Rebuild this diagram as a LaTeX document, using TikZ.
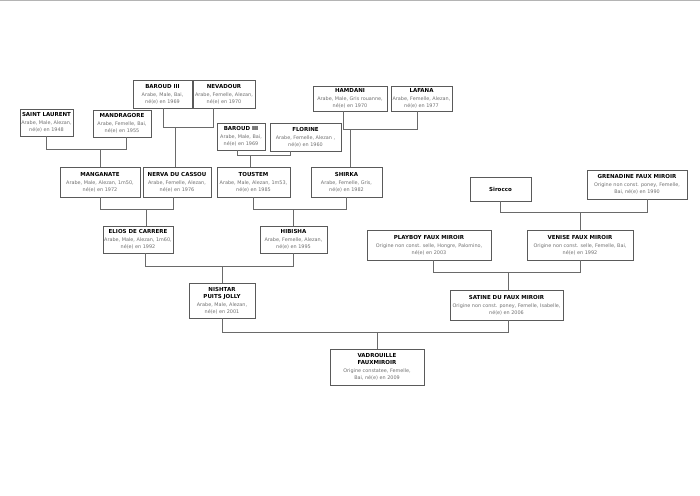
\documentclass[tikz,border=0pt]{standalone}
\usepackage{fontspec}
\setmainfont{DejaVu Sans}
\usepackage{tikz}
\definecolor{boxBorder}{HTML}{5A5A5A}
\definecolor{lineageLine}{HTML}{6A6A6A}
\definecolor{infoText}{HTML}{707070}
\definecolor{pageEdge}{HTML}{B4B4B4}
\tikzset{
  horse/.style 2 args={draw=boxBorder,fill=white,line width=0.8pt,
    minimum width=#1,minimum height=#2,inner sep=0.5pt,align=center,
    text=infoText,font=\fontsize{4.9}{6.8}\selectfont},
  lineage/.style={draw=lineageLine,line width=0.8pt},
}
\newcommand\horseName[1]{{\color{black}\fontsize{5.5}{7}\selectfont\bfseries #1}}

\begin{document}
\begin{tikzpicture}[x=1pt,y=-1pt]
\useasboundingbox (0,0) rectangle (700,495);
\draw[pageEdge,line width=1.5pt] (0,0.75) -- (700,0.75);
% ancestors
\node[horse={53}{27}] (stLaurent) at (46.5,122.5) {\horseName{SAINT LAURENT}\\[1.5pt]Arabe, Male, Alezan,\\né(e) en 1948};
\node[horse={58}{27}] (mandragore) at (122,123.5) {\horseName{MANDRAGORE}\\[1.5pt]Arabe, Femelle, Bai,\\né(e) en 1955};
\node[horse={59}{28}] (baroudA) at (162.5,94) {\horseName{BAROUD III}\\[1.5pt]Arabe, Male, Bai,\\né(e) en 1969};
\node[horse={62}{28}] (nevadour) at (224,94) {\horseName{NEVADOUR}\\[1.5pt]Arabe, Femelle, Alezan,\\né(e) en 1970};
\node[horse={48}{27}] (baroudB) at (241,136.5) {\horseName{BAROUD III}\\[1.5pt]Arabe, Male, Bai,\\né(e) en 1969};
\node[horse={71}{28}] (florine) at (305.5,137) {\horseName{FLORINE}\\[1.5pt]Arabe, Femelle, Alezan ,\\né(e) en 1960};
\node[horse={74}{25}] (hamdani) at (350,98.5) {\horseName{HAMDANI}\\[1.5pt]Arabe, Male, Gris rouanne,\\né(e) en 1970};
\node[horse={61}{25}] (lafana) at (421.5,98.5) {\horseName{LAFANA}\\[1.5pt]Arabe, Femelle, Alezan,\\né(e) en 1977};
% grand-parents
\node[horse={80}{30}] (manganate) at (100,182) {\horseName{MANGANATE}\\[1.5pt]Arabe, Male, Alezan, 1m50,\\né(e) en 1972};
\node[horse={68}{30}] (nerva) at (177,182) {\horseName{NERVA DU CASSOU}\\[1.5pt]Arabe, Femelle, Alezan,\\né(e) en 1976};
\node[horse={73}{30}] (toustem) at (253.5,182) {\horseName{TOUSTEM}\\[1.5pt]Arabe, Male, Alezan, 1m53,\\né(e) en 1985};
\node[horse={71}{30}] (shirka) at (346.5,182) {\horseName{SHIRKA}\\[1.5pt]Arabe, Femelle, Gris,\\né(e) en 1982};
\node[horse={61}{24}] (sirocco) at (500.5,189) {\horseName{Sirocco}};
\node[horse={100}{29}] (grenadine) at (637,184.5) {\horseName{GRENADINE FAUX MIROIR}\\[1.5pt]Origine non const. poney, Femelle,\\Bai, né(e) en 1990};
% parents
\node[horse={70}{27}] (elios) at (138,239.5) {\horseName{ELIOS DE CARRERE}\\[1.5pt]Arabe, Male, Alezan, 1m60,\\né(e) en 1992};
\node[horse={67}{27}] (hibisha) at (293.5,239.5) {\horseName{HIBISHA}\\[1.5pt]Arabe, Femelle, Alezan,\\né(e) en 1995};
\node[horse={124}{30}] (playboy) at (429,245) {\horseName{PLAYBOY FAUX MIROIR}\\[1.5pt]Origine non const. selle, Hongre, Palomino,\\né(e) en 2003};
\node[horse={106}{30}] (venise) at (580,245) {\horseName{VENISE FAUX MIROIR}\\[1.5pt]Origine non const. selle, Femelle, Bai,\\né(e) en 1992};
\node[horse={66}{35}] (nishtar) at (222,300.5) {\horseName{NISHTAR}\\\horseName{PUITS JOLLY}\\[1.5pt]Arabe, Male, Alezan,\\né(e) en 2001};
\node[horse={113}{30}] (satine) at (506.5,305) {\horseName{SATINE DU FAUX MIROIR}\\[1.5pt]Origine non const. poney, Femelle, Isabelle,\\né(e) en 2006};
\node[horse={94}{36}] (vadrouille) at (377,367) {\horseName{VADROUILLE}\\\horseName{FAUXMIROIR}\\[1.5pt]Origine constatee, Femelle,\\Bai, né(e) en 2009};
% lineage
\foreach \p/\ps/\m/\ms/\c/\cs/\h in {
  stLaurent/0/mandragore/4/manganate/0/17,
  baroudA/1/nevadour/-11/nerva/-2/39,
  baroudB/-4/florine/-15/toustem/-3/11,
  hamdani/-7/lafana/-4/shirka/4/37,
  manganate/0/nerva/-4/elios/8/16,
  toustem/0/shirka/0/hibisha/0/16,
  elios/7/hibisha/0/nishtar/0/16,
  sirocco/0/grenadine/10/venise/0/17,
  playboy/4/venise/0/satine/2/17,
  nishtar/0/satine/2/vadrouille/0/16} {
  \coordinate (j-\c) at ([xshift=\cs pt,yshift=\h pt]\c.north);
  \draw[lineage] ([xshift=\ps pt]\p.south) |- (j-\c) -| ([xshift=\ms pt]\m.south);
  \draw[lineage] (j-\c) -- ([xshift=\cs pt]\c.north);
}
\end{tikzpicture}
\end{document}
